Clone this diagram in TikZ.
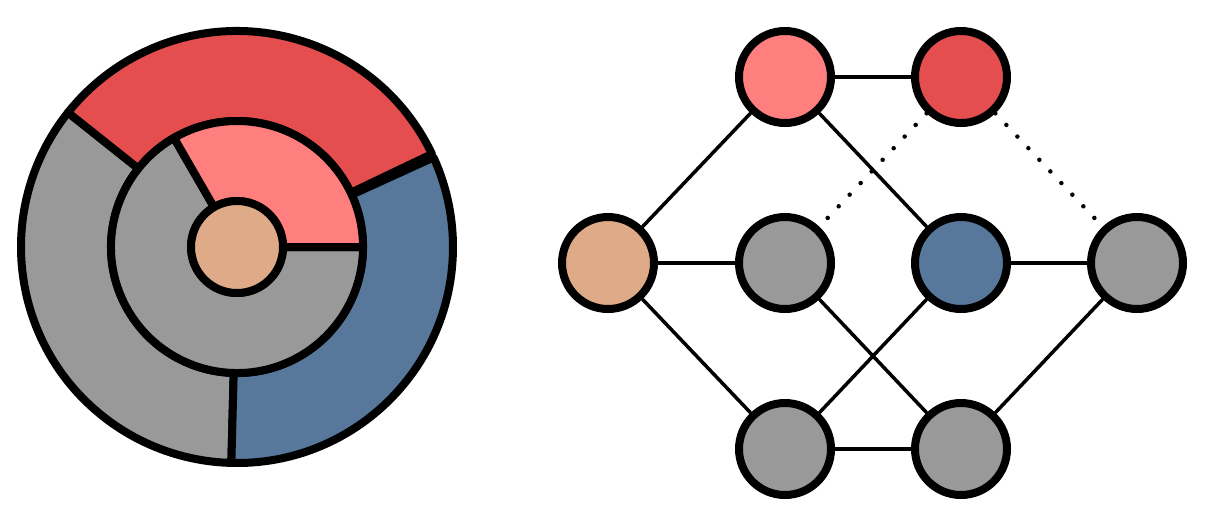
\documentclass[tikz,border=0pt]{standalone}
\definecolor{pinkc}{RGB}{255,127,127}
\definecolor{redc}{RGB}{229,78,78}
\definecolor{bluec}{RGB}{87,120,155}
\definecolor{grayc}{RGB}{153,153,153}
\definecolor{tanc}{RGB}{222,170,136}
\tikzset{
  sector/.style={draw=black, line width=8pt, line join=round},
  gnode/.style={circle, draw=black, line width=8pt, minimum size=92pt, inner sep=0pt},
  edge/.style={draw=black, line width=3.5pt},
  dotedge/.style={draw=black, line width=4.5pt, line cap=round, dash pattern=on 0pt off 16pt},
}
\newcommand{\annsector}[5]{% color, a1, a2, r1, r2
  \filldraw[sector, fill=#1] ([shift={(#2:#5)}]O) arc[start angle=#2, end angle=#3, radius=#5]
    -- ([shift={(#3:#4)}]O) arc[start angle=#3, end angle=#2, radius=#4] -- cycle;}
\begin{document}
\begin{tikzpicture}[x=1pt,y=1pt]
\useasboundingbox (0,0) rectangle (1206,-522);
\coordinate (O) at (237,-247);
% outer ring
\annsector{grayc}{141.5}{268.5}{126}{216}
\annsector{bluec}{-91.5}{24.5}{126}{216}
\annsector{redc}{25.5}{141.5}{126}{216}
% inner ring
\annsector{grayc}{120}{360}{46}{126}
\annsector{pinkc}{0}{120}{46}{126}
% centre
\filldraw[sector, fill=tanc] (O) circle[radius=46];

% graph
\node[gnode, fill=pinkc] (A) at (785,-77) {};
\node[gnode, fill=redc] (B) at (961,-77) {};
\node[gnode, fill=tanc] (C) at (608,-263) {};
\node[gnode, fill=grayc] (D) at (785,-263) {};
\node[gnode, fill=bluec] (E) at (961,-263) {};
\node[gnode, fill=grayc] (F) at (1137,-263) {};
\node[gnode, fill=grayc] (G) at (785,-449) {};
\node[gnode, fill=grayc] (H) at (961,-449) {};

\draw[edge] (A) -- (B);
\draw[edge] (A) -- (C);
\draw[edge] (A) -- (E);
\draw[edge] (C) -- (D);
\draw[edge] (C) -- (G);
\draw[edge] (D) -- (H);
\draw[edge] (E) -- (G);
\draw[edge] (E) -- (F);
\draw[edge] (F) -- (H);
\draw[edge] (G) -- (H);
\draw[dotedge] (B) -- (D);
\draw[dotedge] (B) -- (F);
\end{tikzpicture}
\end{document}
